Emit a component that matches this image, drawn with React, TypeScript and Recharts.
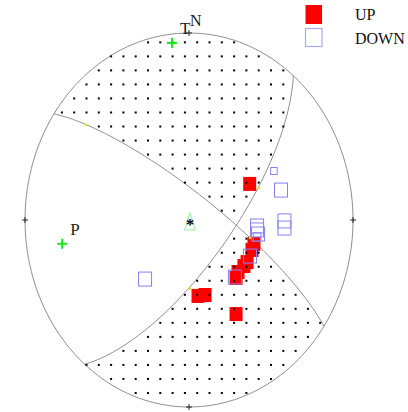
import React from 'react';
import { ScatterChart, Scatter, XAxis, YAxis, Legend } from 'recharts';

// first-motion polarities, lower hemisphere equal-area, unit circle coords
const upX = [0.370, 0.396, 0.384, 0.354, 0.335, 0.299, 0.287, 0.055, 0.098, 0.287];
const upY = [0.193, -0.128, -0.160, -0.225, -0.246, -0.278, -0.310, -0.406, -0.401, -0.503];

const downX = [0.518, 0.561, 0.415, 0.415, 0.421, 0.582, 0.582, 0.415, 0.372, 0.280, -0.268];
const downY = [0.262, 0.160, -0.032, -0.053, -0.075, -0.005, -0.043, -0.091, -0.193, -0.305, -0.316];
const downWeight = [0.5, 1, 1, 1, 1, 1, 1, 0.6, 1, 1, 1];

// nodal planes (strike, dip in degrees)
const planeStrike = [304.6, 39.5];
const planeDip = [78, 70];

// P and T axes
const axisNames = ['P', 'T'];
const axisX = [-0.773, -0.104];
const axisY = [-0.127, 0.947];

// small slip markers on the planes
const slipX = [-0.628, 0.427, 0.372, 0.006];
const slipY = [0.508, 0.171, -0.096, -0.366];

const centreX = [0.006];
const centreY = [-0.01];

const compassNames = ['N', '', '', ''];
const compassX = [0, 1, 0, -1];
const compassY = [1, 0, -1, 0];

const legendNames = ['UP', 'DOWN'];

const FONT = '"Liberation Serif", "Times New Roman", serif';
const GREY = '#8f8f8f';
const RED = '#ff0000';
const BLUE = '#8383f2';
const GREEN = '#19e619';

const rad = Math.PI / 180;

// project a lower-hemisphere vector (N, E, Down) to equal-area unit circle
const project = (n: number, e: number, d: number) => {
  const f = Math.sqrt(1 + d);
  return { x: e / f, y: n / f };
};

const planeVectors = (strike: number, dip: number) => {
  const s = strike * rad;
  const dp = dip * rad;
  const S = [Math.cos(s), Math.sin(s), 0];
  const D = [-Math.cos(dp) * Math.sin(s), Math.cos(dp) * Math.cos(s), Math.sin(dp)];
  return { S, D };
};

const planeCurve = (strike: number, dip: number) => {
  const { S, D } = planeVectors(strike, dip);
  const pts = [];
  for (let t = 0; t <= 180; t += 2) {
    const c = Math.cos(t * rad);
    const sn = Math.sin(t * rad);
    pts.push(project(c * S[0] + sn * D[0], c * S[1] + sn * D[1], c * S[2] + sn * D[2]));
  }
  return pts;
};

const cross = (a: number[], b: number[]) => [
  a[1] * b[2] - a[2] * b[1],
  a[2] * b[0] - a[0] * b[2],
  a[0] * b[1] - a[1] * b[0],
];

const normals = planeStrike.map((s, i) => {
  const { S, D } = planeVectors(s, planeDip[i]);
  return cross(S, D);
});

const quadrant = (x: number, y: number) => {
  const r2 = x * x + y * y;
  const d = 1 - r2;
  const f = Math.sqrt(1 + d);
  const v = [y * f, x * f, d];
  const dot = (n: number[]) => n[0] * v[0] + n[1] * v[1] + n[2] * v[2];
  return Math.sign(dot(normals[0]) * dot(normals[1]));
};

const dottedSign = quadrant(axisX[1], axisY[1]);

const gridDots: { x: number; y: number }[] = [];
for (let i = 0; i <= 26; i++) {
  for (let j = 0; j <= 26; j++) {
    const x = -1 + 0.075 * i;
    const y = -1 + 0.075 * j;
    if (x * x + y * y < 1 && quadrant(x, y) === dottedSign) gridDots.push({ x, y });
  }
}

const ring = [];
for (let a = 0; a <= 360; a += 2) ring.push({ x: Math.cos(a * rad), y: Math.sin(a * rad) });

const planes = planeStrike.map((s, i) => planeCurve(s, planeDip[i]));
const upData = upX.map((x, i) => ({ x, y: upY[i] }));
const downData = downX.map((x, i) => ({ x, y: downY[i], w: downWeight[i] }));
const axisData = axisNames.map((name, i) => ({ x: axisX[i], y: axisY[i], name }));
const slipData = slipX.map((x, i) => ({ x, y: slipY[i] }));
const centreData = centreX.map((x, i) => ({ x, y: centreY[i] }));
const compassData = compassNames.map((name, i) => ({ x: compassX[i], y: compassY[i], name }));

const Empty = () => <g />;

const UpShape = (p: any) => (
  <rect x={p.cx - 6.5} y={p.cy - 7} width={13} height={14} fill={RED} />
);

const DownShape = (p: any) => {
  const w = 13 * p.payload.w;
  const h = 14 * p.payload.w;
  return <rect x={p.cx - w / 2} y={p.cy - h / 2} width={w} height={h} fill="none" stroke={BLUE} strokeWidth={1} />;
};

const DotShape = (p: any) => <rect x={p.cx - 1} y={p.cy - 1} width={2} height={2} fill="#000" />;

const AxisShape = (p: any) => (
  <g>
    <line x1={p.cx - 5} x2={p.cx + 5} y1={p.cy} y2={p.cy} stroke={GREEN} strokeWidth={2} />
    <line x1={p.cx} x2={p.cx} y1={p.cy - 5} y2={p.cy + 5} stroke={GREEN} strokeWidth={2} />
    <text x={p.cx + 8} y={p.cy - 9} fontFamily={FONT} fontSize={17} fill="#222">
      {p.payload.name}
    </text>
  </g>
);

const TickShape = (p: any) => (
  <g>
    <line x1={p.cx - 3} x2={p.cx + 3} y1={p.cy} y2={p.cy} stroke="#222" strokeWidth={1} />
    <line x1={p.cx} x2={p.cx} y1={p.cy - 3} y2={p.cy + 3} stroke="#222" strokeWidth={1} />
    {p.payload.name ? (
      <text x={p.cx + 1} y={p.cy - 7} fontFamily={FONT} fontSize={16} fill="#222">
        {p.payload.name}
      </text>
    ) : null}
  </g>
);

const SlipShape = (p: any) => <circle cx={p.cx} cy={p.cy} r={1.3} fill="#f0e000" />;

const CentreShape = (p: any) => (
  <g>
    <path
      d={`M${p.cx} ${p.cy - 9} L${p.cx + 5.5} ${p.cy + 8} L${p.cx - 5.5} ${p.cy + 8} Z`}
      fill="none"
      stroke="#9aee9a"
      strokeWidth={1}
    />
    <text x={p.cx} y={p.cy + 8} textAnchor="middle" fontFamily={FONT} fontSize={16} fontWeight="bold" fill="#000">
      *
    </text>
  </g>
);

const renderLegend = () => (
  <svg width={113} height={52}>
    {legendNames.map((name, i) => (
      <g key={name}>
        {name === 'UP' ? (
          <rect x={10.5} y={5 + i * 23} width={16.5} height={19} fill={RED} />
        ) : (
          <rect x={10.5} y={5.5 + i * 23} width={16.5} height={18} fill="none" stroke="#a8a8f8" strokeWidth={1.2} />
        )}
        <text x={60} y={20 + i * 23.5} fontFamily={FONT} fontSize={16} fill="#111">
          {name}
        </text>
      </g>
    ))}
  </svg>
);

export default function App() {
  return (
    <div style={{ position: 'absolute', left: 0, top: 0, width: 408, height: 412, background: '#fff' }}>
      <ScatterChart width={408} height={412} margin={{ top: 33, right: 55, bottom: 5, left: 25 }}>
        <XAxis type="number" dataKey="x" domain={[-1, 1]} hide />
        <YAxis type="number" dataKey="y" domain={[-1, 1]} hide />
        <Legend
          layout="horizontal"
          verticalAlign="middle"
          align="center"
          wrapperStyle={{ top: 0, left: 295, width: 113, height: 52 }}
          content={renderLegend}
        />
        <Scatter data={ring} line={{ stroke: GREY, strokeWidth: 1 }} lineType="joint" shape={Empty} legendType="none" isAnimationActive={false} />
        {planes.map((pts, i) => (
          <Scatter key={i} data={pts} line={{ stroke: GREY, strokeWidth: 1 }} lineType="joint" shape={Empty} legendType="none" isAnimationActive={false} />
        ))}
        <Scatter name="UP" data={upData} fill={RED} shape={UpShape} isAnimationActive={false} />
        <Scatter name="DOWN" data={downData} fill={BLUE} shape={DownShape} isAnimationActive={false} />
        <Scatter data={gridDots} shape={DotShape} legendType="none" isAnimationActive={false} />
        <Scatter data={slipData} shape={SlipShape} legendType="none" isAnimationActive={false} />
        <Scatter data={compassData} shape={TickShape} legendType="none" isAnimationActive={false} />
        <Scatter data={centreData} shape={CentreShape} legendType="none" isAnimationActive={false} />
        <Scatter data={axisData} shape={AxisShape} legendType="none" isAnimationActive={false} />
      </ScatterChart>
    </div>
  );
}
